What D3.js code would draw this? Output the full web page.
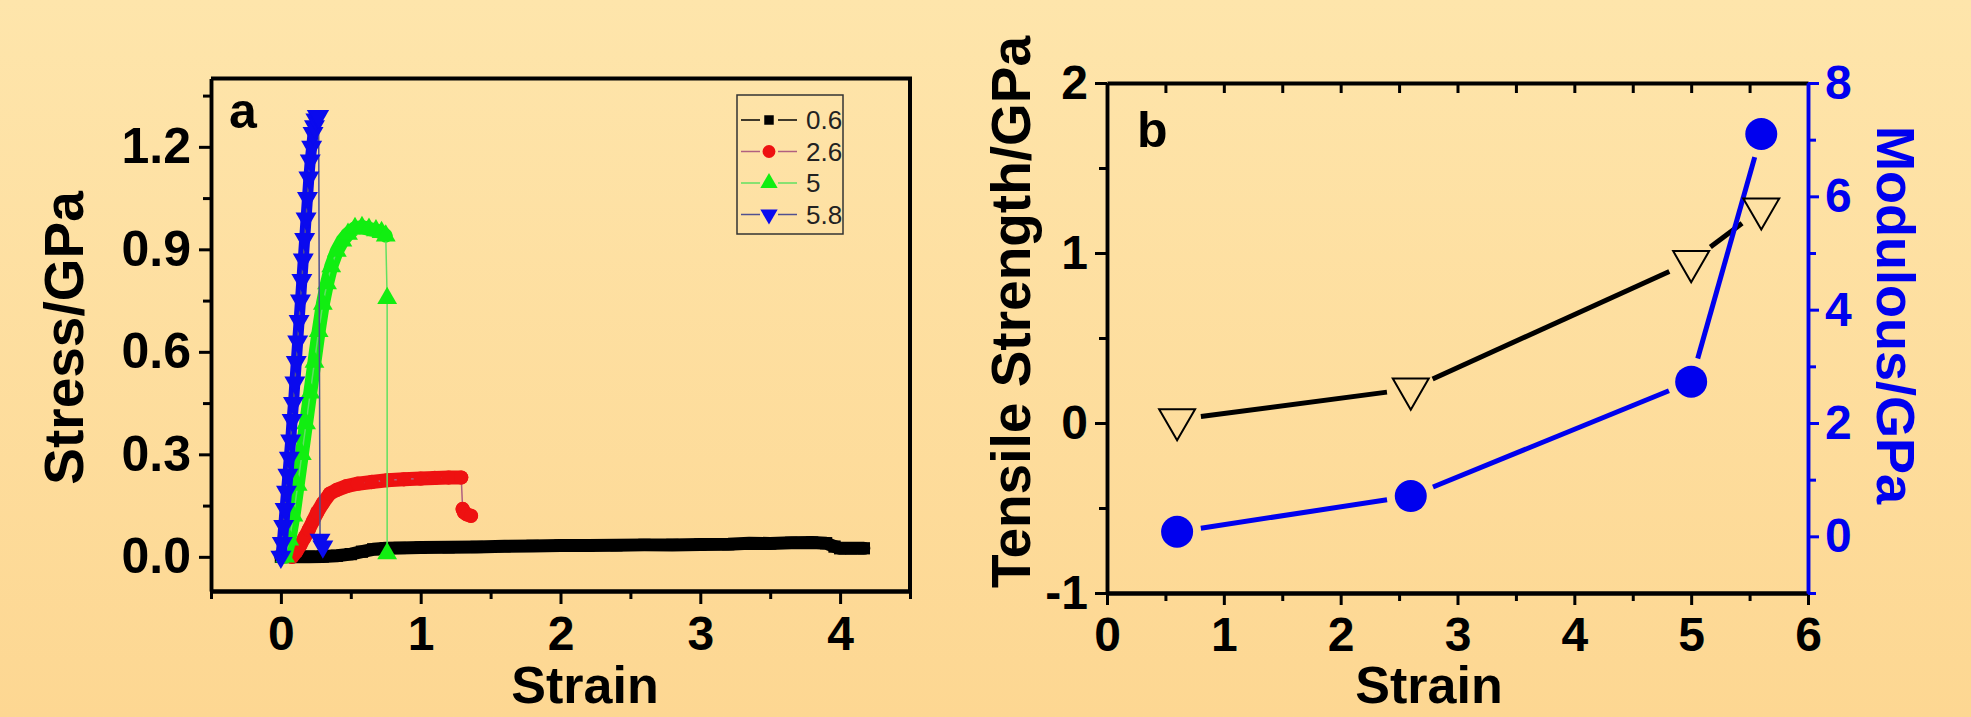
<!DOCTYPE html>
<html>
<head>
<meta charset="utf-8">
<script src="https://cdn.jsdelivr.net/npm/d3@7"></script>
<style>
  html, body { margin: 0; padding: 0; }
  svg { display: block; }
  text { font-family: "Liberation Sans", Arial, sans-serif; }
</style>
</head>
<body>
<div id="chart"></div>
<script>
// ---- panel a: stress-strain curves, [strain, stress in GPa] ----
var legendLabels = ['0.6', '2.6', '5', '5.8']

var curve06 = [
  [0.00, 0.000], [0.10, 0.000], [0.20, 0.000], [0.30, 0.001], [0.40, 0.003],
  [0.50, 0.008], [0.58, 0.015], [0.66, 0.022], [0.75, 0.025], [0.85, 0.026],
  [1.00, 0.027], [1.20, 0.028], [1.40, 0.029], [1.60, 0.031], [1.80, 0.032],
  [2.00, 0.033], [2.20, 0.033], [2.40, 0.034], [2.60, 0.035], [2.80, 0.035],
  [3.00, 0.036], [3.20, 0.037], [3.35, 0.040], [3.50, 0.039], [3.65, 0.041],
  [3.80, 0.042], [3.90, 0.040], [3.96, 0.030], [4.00, 0.025], [4.08, 0.025],
  [4.17, 0.025]
]

var curve26 = [
  [0.08, 0.000], [0.11, 0.015], [0.14, 0.035], [0.17, 0.057], [0.20, 0.080],
  [0.23, 0.105], [0.26, 0.130], [0.30, 0.157], [0.35, 0.185], [0.40, 0.196],
  [0.47, 0.207], [0.55, 0.214], [0.65, 0.219], [0.76, 0.224], [0.88, 0.227],
  [1.00, 0.229], [1.10, 0.231], [1.20, 0.232], [1.29, 0.232], [1.30, 0.140],
  [1.31, 0.130], [1.33, 0.124], [1.36, 0.120]
]

var curve5 = [
  [0.03, 0.000], [0.06, 0.050], [0.09, 0.120], [0.12, 0.210], [0.15, 0.300],
  [0.18, 0.390], [0.21, 0.480], [0.24, 0.570], [0.27, 0.660], [0.30, 0.740],
  [0.33, 0.800], [0.36, 0.850], [0.40, 0.895], [0.44, 0.925], [0.48, 0.945],
  [0.53, 0.962], [0.58, 0.965], [0.63, 0.960], [0.68, 0.955], [0.72, 0.950],
  [0.75, 0.940], [0.76, 0.757], [0.76, 0.010]
]

var curve58 = [
  [0.00, 0.00], [0.01, 0.04], [0.02, 0.09], [0.03, 0.14], [0.04, 0.19],
  [0.05, 0.24], [0.06, 0.29], [0.07, 0.34], [0.08, 0.40], [0.09, 0.45],
  [0.10, 0.51], [0.11, 0.57], [0.12, 0.63], [0.13, 0.69], [0.14, 0.75],
  [0.15, 0.81], [0.16, 0.87], [0.17, 0.93], [0.18, 0.99], [0.19, 1.05],
  [0.20, 1.11], [0.21, 1.16], [0.22, 1.20], [0.23, 1.24], [0.24, 1.26],
  [0.25, 1.28], [0.26, 1.29], [0.27, 1.29], [0.28, 0.05], [0.30, 0.03]
]

var xTicksA = [0, 1, 2, 3, 4]
var xMinorA = [-0.5, 0.5, 1.5, 2.5, 3.5, 4.5]
var yTicksA = [0, 0.3, 0.6, 0.9, 1.2]
var yMinorA = [0.15, 0.45, 0.75, 1.05, 1.35]

// ---- panel b: strength and modulus vs strain ----
var strainB = [0.6, 2.6, 5.0, 5.6]
var tensile = [0.02, 0.20, 0.95, 1.26]
var modulus = [0.08, 0.71, 2.73, 7.1]

var xTicksB = [0, 1, 2, 3, 4, 5, 6]
var xMinorB = [0.5, 1.5, 2.5, 3.5, 4.5, 5.5]
var yTicksBL = [-1, 0, 1, 2]
var yMinorBL = [-0.5, 0.5, 1.5]
var yTicksBR = [0, 2, 4, 6, 8]
var yMinorBR = [-1, 1, 3, 5, 7]

var blue = '#0000ee'
var plain = d => String(d) // keeps a hyphen minus like the original

var svg = d3
  .select('#chart')
  .append('svg')
  .attr('width', 1971)
  .attr('height', 717)

// background gradient
var grad = svg
  .append('defs')
  .append('linearGradient')
  .attr('id', 'bg')
  .attr('x1', 0).attr('y1', 0).attr('x2', 0).attr('y2', 1)
grad.append('stop').attr('offset', '0%').attr('stop-color', '#fee5ab')
grad.append('stop').attr('offset', '100%').attr('stop-color', '#fdd792')
svg.append('rect').attr('width', 1971).attr('height', 717).attr('fill', 'url(#bg)')

// style an axis group after calling it
function styleAxis(g, width, size, color) {
  g.select('.domain').attr('stroke', color || '#000').attr('stroke-width', width)
  g.selectAll('.tick line').attr('stroke', color || '#000').attr('stroke-width', 3)
  g.selectAll('.tick text')
    .attr('fill', color || '#000')
    .attr('font-size', size)
    .attr('font-weight', 'bold')
}

// ================= panel a =================
var xA = d3.scaleLinear().domain([-0.5, 4.5]).range([211, 910])
var yA = d3.scaleLinear().domain([-0.1, 1.4]).range([591, 78.5])

var pa = svg.append('g')

// top and right frame
pa.append('path')
  .attr('d', `M${xA(-0.5)},${yA(1.4)}H${xA(4.5)}V${yA(-0.1)}`)
  .attr('fill', 'none')
  .attr('stroke', '#000')
  .attr('stroke-width', 4)

pa.append('g')
  .attr('transform', `translate(0,${yA(-0.1)})`)
  .call(d3.axisBottom(xA).tickValues(xMinorA).tickSize(8).tickSizeOuter(0).tickFormat(''))
  .call(g => styleAxis(g, 4, 0))
pa.append('g')
  .attr('transform', `translate(0,${yA(-0.1)})`)
  .call(d3.axisBottom(xA).tickValues(xTicksA).tickSize(13).tickSizeOuter(0).tickPadding(12).tickFormat(plain))
  .call(g => styleAxis(g, 4, 48))

pa.append('g')
  .attr('transform', `translate(${xA(-0.5)},0)`)
  .call(d3.axisLeft(yA).tickValues(yMinorA).tickSize(8).tickSizeOuter(0).tickFormat(''))
  .call(g => styleAxis(g, 3.5, 0))
pa.append('g')
  .attr('transform', `translate(${xA(-0.5)},0)`)
  .call(d3.axisLeft(yA).tickValues(yTicksA).tickSize(12).tickSizeOuter(0).tickPadding(8).tickFormat(d3.format('.1f')))
  .call(g => styleAxis(g, 3.5, 50))

var seriesA = [
  { data: curve06, line: '#000000', fill: '#000000', sym: d3.symbolSquare, size: 150, rot: 0, band: 13 },
  { data: curve26, line: '#b06080', fill: '#ee1111', sym: d3.symbolCircle, size: 160, rot: 0, band: 14 },
  { data: curve5, line: '#60e060', fill: '#11ee11', sym: d3.symbolTriangle, size: 170, rot: 0, band: 14 },
  { data: curve58, line: '#505090', fill: '#0a0aee', sym: d3.symbolTriangle, size: 190, rot: 180, band: 11 }
]

var lineA = d3.line().x(d => xA(d[0])).y(d => yA(d[1]))

seriesA.forEach(function(s) {
  // split into runs wherever the stress breaks down
  var runs = [[s.data[0]]]
  for (var i = 1; i < s.data.length; i++) {
    if (s.data[i][1] < s.data[i - 1][1] - 0.05) runs.push([])
    runs[runs.length - 1].push(s.data[i])
  }
  runs.forEach(function(r) {
    if (r.length < 2) return
    pa.append('path')
      .attr('d', lineA(r))
      .attr('fill', 'none')
      .attr('stroke', s.fill)
      .attr('stroke-width', s.band)
      .attr('stroke-linejoin', 'round')
      .attr('stroke-linecap', 'round')
  })
  pa.append('path')
    .attr('d', lineA(s.data))
    .attr('fill', 'none')
    .attr('stroke', s.line)
    .attr('stroke-width', 1.5)
  pa.selectAll(null)
    .data(s.data)
    .enter()
    .append('path')
    .attr('d', d3.symbol().type(s.sym).size(s.size))
    .attr('transform', d => `translate(${xA(d[0])},${yA(d[1])}) rotate(${s.rot})`)
    .attr('fill', s.fill)
})

// legend
var leg = pa.append('g').attr('transform', 'translate(737,95)')
leg.append('rect')
  .attr('width', 106)
  .attr('height', 139)
  .attr('fill', 'none')
  .attr('stroke', '#333')
  .attr('stroke-width', 1.5)
seriesA.forEach(function(s, i) {
  var row = leg.append('g').attr('transform', `translate(0,${25 + i * 31.5})`)
  row.append('line').attr('x1', 4).attr('x2', 23).attr('stroke', s.line).attr('stroke-width', 1.5)
  row.append('line').attr('x1', 41).attr('x2', 60).attr('stroke', s.line).attr('stroke-width', 1.5)
  row.append('path')
    .attr('d', d3.symbol().type(s.sym).size(s.sym === d3.symbolSquare ? 90 : 130))
    .attr('transform', `translate(32,0) rotate(${s.rot})`)
    .attr('fill', s.fill)
  row.append('text')
    .attr('x', 69)
    .attr('dy', '0.36em')
    .attr('font-size', 26)
    .attr('fill', '#222')
    .text(legendLabels[i])
})

pa.append('text')
  .attr('x', 229).attr('y', 128)
  .attr('font-size', 50).attr('font-weight', 'bold')
  .text('a')

pa.append('text')
  .attr('transform', 'translate(83,338) rotate(-90)')
  .attr('text-anchor', 'middle')
  .attr('font-size', 55).attr('font-weight', 'bold')
  .text('Stress/GPa')

pa.append('text')
  .attr('x', 585).attr('y', 703)
  .attr('text-anchor', 'middle')
  .attr('font-size', 52).attr('font-weight', 'bold')
  .text('Strain')

// ================= panel b =================
var xB = d3.scaleLinear().domain([0, 6]).range([1107, 1808])
var yBL = d3.scaleLinear().domain([-1, 2]).range([593, 83])
var yBR = d3.scaleLinear().domain([-1, 8]).range([593, 83])

var pb = svg.append('g')

// top axis with ticks hanging down
pb.append('g')
  .attr('transform', `translate(0,${yBL(2)})`)
  .call(d3.axisBottom(xB).tickValues(xTicksB.concat(xMinorB)).tickSize(10).tickSizeOuter(0).tickFormat(''))
  .call(g => styleAxis(g, 4, 0))

pb.append('g')
  .attr('transform', `translate(0,${yBL(-1)})`)
  .call(d3.axisBottom(xB).tickValues(xMinorB).tickSize(8).tickSizeOuter(0).tickFormat(''))
  .call(g => styleAxis(g, 4, 0))
pb.append('g')
  .attr('transform', `translate(0,${yBL(-1)})`)
  .call(d3.axisBottom(xB).tickValues(xTicksB).tickSize(12).tickSizeOuter(0).tickPadding(12).tickFormat(plain))
  .call(g => styleAxis(g, 4, 48))

pb.append('g')
  .attr('transform', `translate(${xB(0)},0)`)
  .call(d3.axisLeft(yBL).tickValues(yMinorBL).tickSize(8).tickSizeOuter(0).tickFormat(''))
  .call(g => styleAxis(g, 3.5, 0))
pb.append('g')
  .attr('transform', `translate(${xB(0)},0)`)
  .call(d3.axisLeft(yBL).tickValues(yTicksBL).tickSize(12).tickSizeOuter(0).tickPadding(7).tickFormat(plain))
  .call(g => styleAxis(g, 3.5, 48))

pb.append('g')
  .attr('transform', `translate(${xB(6)},0)`)
  .call(d3.axisRight(yBR).tickValues(yMinorBR).tickSize(8).tickSizeOuter(0).tickFormat(''))
  .call(g => styleAxis(g, 3.5, 0, blue))
pb.append('g')
  .attr('transform', `translate(${xB(6)},0)`)
  .call(d3.axisRight(yBR).tickValues(yTicksBR).tickSize(11).tickSizeOuter(0).tickPadding(6).tickFormat(plain))
  .call(g => styleAxis(g, 3.5, 48, blue))

// connecting lines leave a gap around each symbol
function gapped(pts, gap) {
  var segs = []
  for (var i = 1; i < pts.length; i++) {
    var a = pts[i - 1], b = pts[i]
    var dx = b[0] - a[0], dy = b[1] - a[1]
    var len = Math.sqrt(dx * dx + dy * dy)
    if (len <= gap * 2) continue
    var ux = dx / len, uy = dy / len
    segs.push([[a[0] + ux * gap, a[1] + uy * gap], [b[0] - ux * gap, b[1] - uy * gap]])
  }
  return segs
}

var ptsT = strainB.map((s, i) => [xB(s), yBL(tensile[i])])
var ptsM = strainB.map((s, i) => [xB(s), yBR(modulus[i])])

pb.selectAll('.seg-t')
  .data(gapped(ptsT, 24))
  .enter()
  .append('line')
  .attr('x1', d => d[0][0]).attr('y1', d => d[0][1])
  .attr('x2', d => d[1][0]).attr('y2', d => d[1][1])
  .attr('stroke', '#000')
  .attr('stroke-width', 5)

pb.selectAll('.seg-m')
  .data(gapped(ptsM, 24))
  .enter()
  .append('line')
  .attr('x1', d => d[0][0]).attr('y1', d => d[0][1])
  .attr('x2', d => d[1][0]).attr('y2', d => d[1][1])
  .attr('stroke', blue)
  .attr('stroke-width', 5)

pb.selectAll('.tri')
  .data(ptsT)
  .enter()
  .append('path')
  .attr('d', d3.symbol().type(d3.symbolTriangle).size(560))
  .attr('transform', d => `translate(${d[0]},${d[1]}) rotate(180)`)
  .attr('fill', 'none')
  .attr('stroke', '#000')
  .attr('stroke-width', 2)

pb.selectAll('.dot')
  .data(ptsM)
  .enter()
  .append('circle')
  .attr('cx', d => d[0])
  .attr('cy', d => d[1])
  .attr('r', 16)
  .attr('fill', blue)

pb.append('text')
  .attr('x', 1137).attr('y', 147)
  .attr('font-size', 50).attr('font-weight', 'bold')
  .text('b')

pb.append('text')
  .attr('transform', 'translate(1030,312) rotate(-90)')
  .attr('text-anchor', 'middle')
  .attr('font-size', 55).attr('font-weight', 'bold')
  .text('Tensile Strength/GPa')

pb.append('text')
  .attr('transform', 'translate(1877,315) rotate(90)')
  .attr('text-anchor', 'middle')
  .attr('font-size', 54).attr('font-weight', 'bold')
  .attr('fill', blue)
  .text('Modulous/GPa')

pb.append('text')
  .attr('x', 1429).attr('y', 703)
  .attr('text-anchor', 'middle')
  .attr('font-size', 52).attr('font-weight', 'bold')
  .text('Strain')
</script>
</body>
</html>
